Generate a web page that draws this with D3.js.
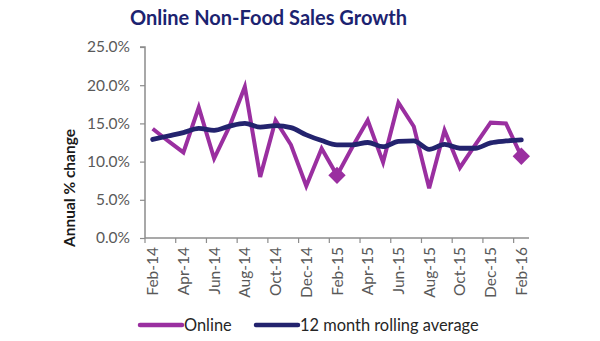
<!DOCTYPE html>
<html><head><meta charset="utf-8">
<script src="https://cdn.jsdelivr.net/npm/d3@7"></script>
<style>body{margin:0;background:#fff}svg{display:block}text{font-family:Lato,"Open Sans",sans-serif}</style>
</head><body><svg id="c" width="600" height="341"></svg>
<script>
const months = ["Feb-14","Mar-14","Apr-14","May-14","Jun-14","Jul-14","Aug-14","Sep-14","Oct-14","Nov-14","Dec-14","Jan-15","Feb-15","Mar-15","Apr-15","May-15","Jun-15","Jul-15","Aug-15","Sep-15","Oct-15","Nov-15","Dec-15","Jan-16","Feb-16"];
const online = [14.3,12.7,11.2,17.1,10.4,14.6,19.8,8.0,15.4,12.2,6.8,11.7,8.2,11.9,15.4,9.9,17.7,14.6,6.5,14.1,9.2,12.2,15.1,15.0,10.7];
const rolling = [12.9,13.35,13.8,14.35,14.1,14.65,15.0,14.5,14.7,14.45,13.5,12.75,12.2,12.2,12.5,11.95,12.65,12.7,11.6,12.25,11.75,11.75,12.45,12.7,12.85];
const yTicks = [0,5,10,15,20,25];
const highlight = ["Feb-15","Feb-16"];
const seriesNames = ["Online","12 month rolling average"];
const colors = ["#9a2fa0","#23236e"];

const svg = d3.select("#c");
const x0 = 145, x1 = 529, yTop = 47, yBot = 238;
const x = d3.scaleBand().domain(months).range([x0, x1]);
const y = d3.scaleLinear().domain([0,25]).range([yBot, yTop]);

svg.append("text").attr("x",130).attr("y",25).attr("font-size",20).attr("font-weight","bold")
  .attr("fill","#1c2370").text("Online Non-Food Sales Growth");

// y axis
const ya = svg.append("g").attr("transform",`translate(${x0},0)`)
  .call(d3.axisLeft(y).tickValues(yTicks).tickFormat(d=>d.toFixed(1)+"%").tickSize(5).tickPadding(10));
ya.select(".domain").attr("stroke","#8c8c8c").attr("stroke-width",1.5).attr("d",`M-5,${yTop}H0V${yBot}`);
ya.selectAll(".tick line").attr("stroke","#8c8c8c").attr("stroke-width",1.2);
ya.selectAll(".tick text").attr("font-size",15.5).attr("fill","#595959").attr("font-family","Lato,sans-serif");

// x axis
const xa = svg.append("g").attr("transform",`translate(0,${yBot})`);
xa.append("line").attr("x1",x0).attr("x2",x1).attr("stroke","#8c8c8c").attr("stroke-width",1.5);
const tickIdx = d3.range(0, months.length+1, 2);
xa.selectAll("line.t").data(tickIdx).join("line").attr("class","t")
  .attr("x1",i=>x0+i*x.step()).attr("x2",i=>x0+i*x.step()).attr("y1",0).attr("y2",5)
  .attr("stroke","#8c8c8c").attr("stroke-width",1.2);
xa.selectAll("text").data(months.filter((m,i)=>i%2===0)).join("text")
  .attr("transform",m=>`translate(${x(m)+x.bandwidth()/2+5.5},9) rotate(-90)`)
  .attr("text-anchor","end").attr("font-size",15.5).attr("fill","#595959").text(m=>m);

// y title
svg.append("text").attr("transform","translate(75,188) rotate(-90)").attr("text-anchor","middle")
  .attr("font-size",15.5).attr("font-weight","bold").attr("fill","#1a1a1a").text("Annual % change");

const cx = m => x(m)+x.bandwidth()/2;
const line = d3.line().x((d,i)=>cx(months[i])).y(d=>y(d));
svg.append("path").datum(online).attr("d",line).attr("fill","none").attr("stroke",colors[0])
  .attr("stroke-width",4).attr("stroke-linejoin","miter");
svg.append("path").datum(rolling).attr("d",line.curve(d3.curveMonotoneX)).attr("fill","none").attr("stroke",colors[1])
  .attr("stroke-width",4.8).attr("stroke-linejoin","round").attr("stroke-linecap","round");
svg.selectAll("path.hl").data(highlight).join("path").attr("class","hl")
  .attr("d",d3.symbol().type(d3.symbolSquare).size(150))
  .attr("transform",m=>`translate(${cx(m)},${y(online[months.indexOf(m)])}) rotate(45)`)
  .attr("fill",colors[0]);

// legend
const leg = [{x:140,t:seriesNames[0],c:colors[0]},{x:256,t:seriesNames[1],c:colors[1]}];
const lg = svg.selectAll("g.lg").data(leg).join("g").attr("class","lg");
lg.append("line").attr("x1",d=>d.x).attr("x2",d=>d.x+42).attr("y1",325).attr("y2",325)
  .attr("stroke",d=>d.c).attr("stroke-width",4.5).attr("stroke-linecap","round");
lg.append("text").attr("x",d=>d.x+44).attr("y",331).attr("font-size",16.4).attr("fill","#262626").text(d=>d.t);
</script></body></html>
